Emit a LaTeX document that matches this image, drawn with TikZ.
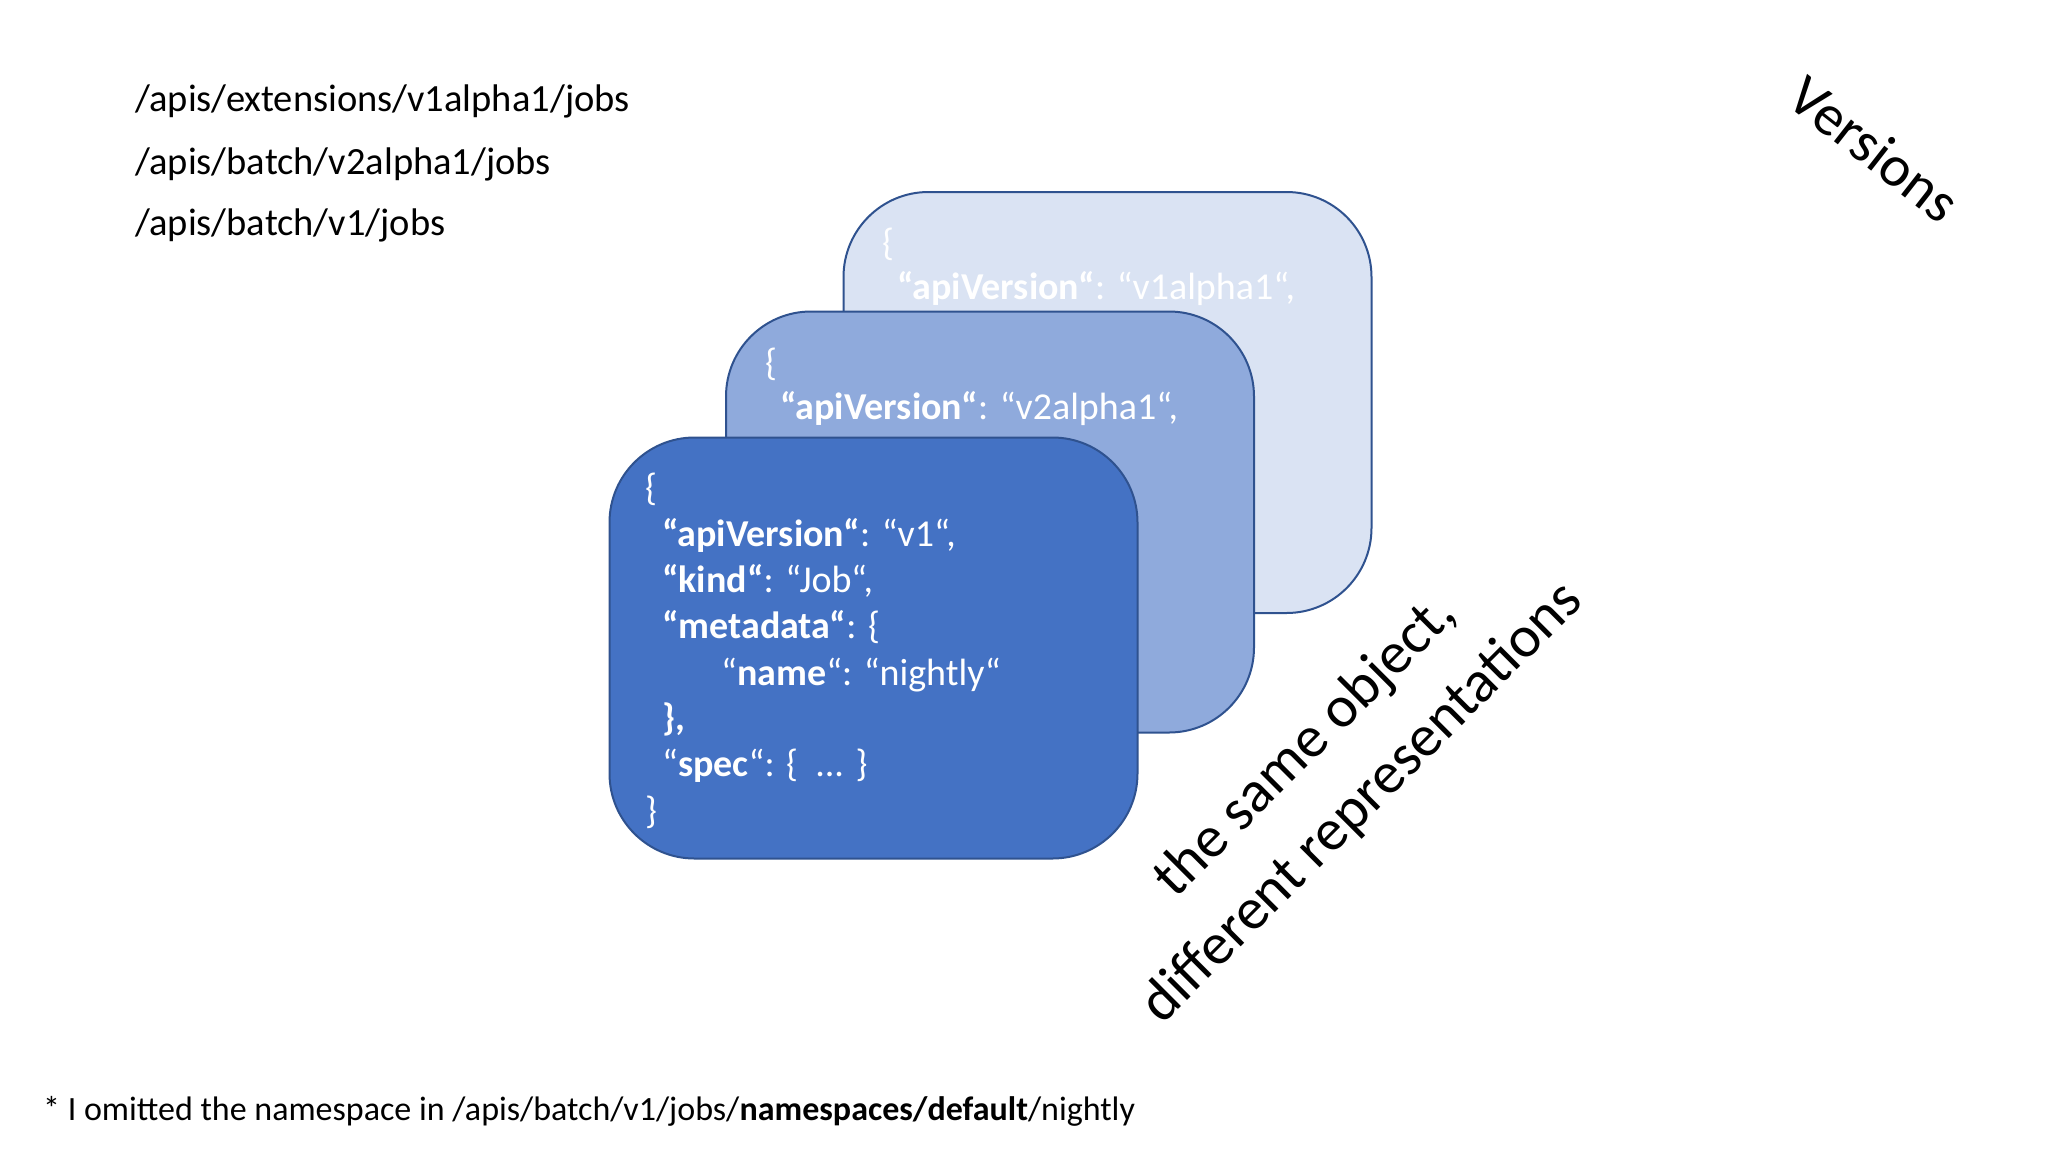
\documentclass[tikz,border=0pt]{standalone}
\usepackage{fontspec}
\setmainfont{Carlito}
\definecolor{backfill}{HTML}{DAE3F3}
\definecolor{midfill}{HTML}{8FAADC}
\definecolor{frontfill}{HTML}{4472C4}
\definecolor{boxline}{HTML}{2F528F}
\tikzset{
  card/.style={draw=boxline, line width=2pt, rounded corners=85pt, minimum width=528pt, minimum height=421pt, inner sep=0pt},
  code/.style={text=white, anchor=base west, inner sep=0pt, font=\fontsize{38}{46}\selectfont},
  url/.style={anchor=base west, inner sep=0pt, font=\fontsize{38.5}{46}\selectfont},
}
\begin{document}
\begin{tikzpicture}[x=1pt,y=-1pt]
\useasboundingbox[fill=white] (0,0) rectangle (2048,1152);

% URLs
\node[url] (u1) at (135,111) {/apis/extensions/v1alpha1/jobs};
\node[url] (u2) at (135,174) {/apis/batch/v2alpha1/jobs};
\node[url] (u3) at (135,235) {/apis/batch/v1/jobs};

% back card
\node[card, fill=backfill] (back) at (1107.5,402.5) {};
\node[code] (b1) at (882,255) {\{};
\node[code] (b2) at (897,299) {\textbf{“apiVersion“}: “v1alpha1“,};

% middle card
\node[card, fill=midfill] (mid) at (990,522) {};
\node[code] (m1) at (765,375) {\{};
\node[code] (m2) at (780,419) {\textbf{“apiVersion“}: “v2alpha1“,};

% front card
\node[card, fill=frontfill] (front) at (873.5,648) {};
\node[code] (f1) at (645,500) {\{};
\node[code] (f2) at (662,546) {\textbf{“apiVersion“}: “v1“,};
\node[code] (f3) at (662,592) {\textbf{“kind“}: “Job“,};
\node[code] (f4) at (662,638) {\textbf{“metadata“}: \{};
\node[code] (f5) at (721,685) {“\textbf{name}“: “nightly“};
\node[code] (f6) at (662,730) {\textbf{\},}};
\node[code] (f7) at (662,776) {“\textbf{spec}“: \{\ \ ... \}};
\node[code] (f8) at (645,823) {\}};

% rotated labels
\node[rotate=45, align=center, inner sep=0pt, font=\fontsize{59}{80}\selectfont] (caption) at (1334,775) {the same object,\\different representations};
\node[rotate=-38, inner sep=0pt, font=\fontsize{58}{66}\selectfont] (versions) at (1875,149) {Versions};

% footnote
\node[anchor=base west, inner sep=0pt, font=\fontsize{34}{40}\selectfont] (note) at (43,1120) {* I omitted the namespace in /apis/batch/v1/jobs/\textbf{namespaces/default}/nightly};
\end{tikzpicture}
\end{document}
